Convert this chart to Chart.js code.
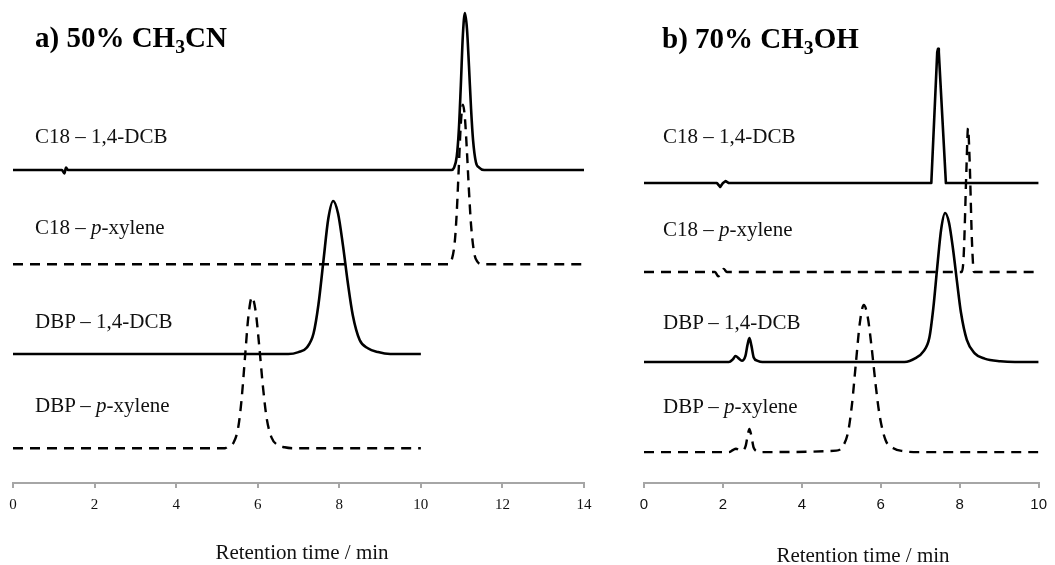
<!DOCTYPE html>
<html lang="en">
<head>
<meta charset="UTF-8">
<title>Chromatograms - retention time</title>
<style>
    body { margin: 0; background: #fff; }
    .wrap {
        position: relative;
        width: 1055px;
        height: 565px;
        overflow: hidden;
        font-family: 'Liberation Serif', 'Times New Roman', serif;
        color: #000;
    }
    canvas { position: absolute; top: 0; }
    .title {
        position: absolute;
        font-weight: bold;
        font-size: 29px;
        line-height: 29px;
        white-space: nowrap;
    }
    .title sub { font-size: 0.68em; line-height: 0; vertical-align: -0.28em; }
    .lbl {
        position: absolute;
        font-size: 21px;
        line-height: 21px;
        white-space: nowrap;
        color: #111;
    }
    .axt {
        position: absolute;
        font-size: 21px;
        line-height: 21px;
        white-space: nowrap;
        transform: translateX(-50%);
        color: #111;
    }
</style>
</head>
<body>
<div class="wrap">
    <canvas id="chartA" width="600" height="565" style="left:0"></canvas>
    <canvas id="chartB" width="455" height="565" style="left:600px"></canvas>

    <div class="title" style="left:35px; top:23px">a) 50% CH<sub>3</sub>CN</div>
    <div class="title" style="left:662px; top:24px">b) 70% CH<sub>3</sub>OH</div>

    <div class="lbl" style="left:35px; top:126px">C18 – 1,4-DCB</div>
    <div class="lbl" style="left:35px; top:217px">C18 – <i>p</i>-xylene</div>
    <div class="lbl" style="left:35px; top:311px">DBP – 1,4-DCB</div>
    <div class="lbl" style="left:35px; top:395px">DBP – <i>p</i>-xylene</div>

    <div class="lbl" style="left:663px; top:126px">C18 – 1,4-DCB</div>
    <div class="lbl" style="left:663px; top:219px">C18 – <i>p</i>-xylene</div>
    <div class="lbl" style="left:663px; top:312px">DBP – 1,4-DCB</div>
    <div class="lbl" style="left:663px; top:396px">DBP – <i>p</i>-xylene</div>

    <div class="axt" style="left:302px; top:542px">Retention time / min</div>
    <div class="axt" style="left:863px; top:545px">Retention time / min</div>
</div>

<script src="https://cdn.jsdelivr.net/npm/chart.js"></script>
<script>
// a) 50% CH3CN  (signal in arbitrary units, traces stacked with offsets)
const aC18DcbTime   = [0, 1.2, 1.26, 1.3, 1.35, 10.75, 10.81, 10.88, 10.93, 10.98, 11.03, 11.08, 11.13, 11.18, 11.23, 11.28, 11.35, 11.43, 11.55, 14];
const aC18DcbSignal = [64.8, 64.8, 64.1, 65.3, 64.8, 64.8, 65.2, 67.6, 72.9, 82.3, 92.7, 97.3, 94.1, 86.3, 77.6, 71.0, 66.4, 65.3, 64.8, 64.8];

const aC18XylTime   = [0, 10.7, 10.75, 10.83, 10.88, 10.93, 10.98, 11.03, 11.08, 11.13, 11.18, 11.23, 11.31, 11.39, 11.5, 14];
const aC18XylSignal = [45.3, 45.3, 46.0, 49.8, 56.0, 65.3, 74.4, 78.3, 75.6, 68.6, 60.4, 53.5, 47.5, 45.8, 45.3, 45.3];

const aDbpDcbTime   = [0, 6.75, 7.0, 7.2, 7.37, 7.49, 7.61, 7.73, 7.85, 7.97, 8.09, 8.21, 8.33, 8.5, 8.7, 8.95, 9.25, 10];
const aDbpDcbSignal = [26.7, 26.7, 27.1, 28.0, 31.0, 37.0, 45.9, 54.7, 58.4, 55.8, 49.2, 41.4, 34.8, 29.6, 27.9, 27.1, 26.7, 26.7];

const aDbpXylTime   = [0, 5.2, 5.26, 5.41, 5.52, 5.6, 5.69, 5.77, 5.86, 5.95, 6.04, 6.13, 6.22, 6.34, 6.48, 6.66, 6.9, 10];
const aDbpXylSignal = [7.2, 7.2, 7.5, 8.4, 11.4, 16.9, 26.2, 34.4, 38.5, 35.5, 28.1, 19.8, 13.4, 9.4, 7.9, 7.4, 7.2, 7.2];

// b) 70% CH3OH
const bC18DcbTime   = [0, 1.85, 1.93, 2.0, 2.07, 2.15, 7.28, 7.43, 7.45, 7.47, 7.65, 10];
const bC18DcbSignal = [62.1, 62.1, 61.3, 62.1, 62.5, 62.1, 62.1, 89.2, 89.9, 89.2, 62.1, 62.1];

const bC18XylTime   = [0, 1.8, 1.88, 1.95, 2.02, 2.1, 8.05, 8.1, 8.17, 8.21, 8.25, 8.31, 8.36, 10];
const bC18XylSignal = [43.7, 43.7, 42.8, 43.4, 44.3, 43.7, 43.7, 47.0, 65.0, 73.5, 67.0, 50.0, 43.7, 43.7];

const bDbpDcbTime   = [0, 2.15, 2.25, 2.32, 2.4, 2.48, 2.57, 2.62, 2.67, 2.72, 2.78, 2.88, 3.0, 6.6, 6.88, 7.08, 7.23, 7.33, 7.43, 7.53, 7.63, 7.73, 7.83, 7.93, 8.03, 8.18, 8.38, 8.63, 9.03, 9.4, 10];
const bDbpDcbSignal = [25.05, 25.05, 25.6, 26.3, 25.8, 25.3, 26.3, 28.5, 30.0, 28.5, 26.0, 25.3, 25.05, 25.05, 25.85, 27.25, 30.05, 36.15, 44.65, 52.55, 55.9, 53.85, 48.45, 41.75, 35.35, 29.65, 26.85, 25.75, 25.2, 25.05, 25.05];

const bDbpXylTime   = [0, 2.15, 2.25, 2.33, 2.42, 2.5, 2.58, 2.63, 2.67, 2.72, 2.78, 2.9, 3.0, 4.87, 5.02, 5.17, 5.27, 5.37, 5.47, 5.57, 5.67, 5.77, 5.87, 5.97, 6.12, 6.32, 6.57, 7.0, 10];
const bDbpXylSignal = [6.4, 6.4, 6.8, 7.1, 6.8, 6.7, 7.8, 10.0, 11.2, 9.8, 7.3, 6.5, 6.4, 6.7, 7.4, 10.5, 16.3, 24.9, 33.2, 36.85, 34.3, 27.9, 20.3, 14.0, 8.9, 7.2, 6.6, 6.4, 6.4];

const xTicksA = [0, 2, 4, 6, 8, 10, 12, 14];
const xTicksB = [0, 2, 4, 6, 8, 10];

function trace(times, values, dashed, sharp) {
    return {
        data: times.map((t, i) => ({ x: t, y: values[i] })),
        borderColor: '#000',
        borderWidth: dashed ? 2.4 : 2.6,
        borderDash: dashed ? [10, 7] : [],
        borderJoinStyle: 'round',
        pointRadius: 0,
        fill: false,
        tension: 0,
        cubicInterpolationMode: sharp ? 'default' : 'monotone'
    };
}

function makeChart(id, ticks, datasets, tickFamily, padLeft, padRight) {
    const ctx = document.getElementById(id).getContext('2d');
    return new Chart(ctx, {
        type: 'line',
        data: { datasets: datasets },
        options: {
            responsive: false,
            animation: false,
            devicePixelRatio: 1,
            layout: { padding: { left: padLeft, right: padRight, top: 0, bottom: 0 } },
            plugins: { legend: { display: false }, tooltip: { enabled: false } },
            scales: {
                x: {
                    type: 'linear',
                    min: ticks[0],
                    max: ticks[ticks.length - 1],
                    afterFit: s => { s.height = 82; },
                    afterBuildTicks: s => { s.ticks = ticks.map(v => ({ value: v })); },
                    ticks: {
                        font: { family: tickFamily, size: 15 },
                        color: '#111',
                        padding: 8,
                        maxRotation: 0
                    },
                    grid: { drawOnChartArea: false, drawTicks: true, tickLength: 5, color: '#a6a6a6', lineWidth: 2 },
                    border: { color: '#a6a6a6', width: 2 }
                },
                y: { display: false, min: 0, max: 100 }
            }
        }
    });
}

makeChart('chartA', xTicksA, [
    trace(aC18DcbTime, aC18DcbSignal, false),
    trace(aC18XylTime, aC18XylSignal, true),
    trace(aDbpDcbTime, aDbpDcbSignal, false),
    trace(aDbpXylTime, aDbpXylSignal, true)
], "'Liberation Serif', serif", 13, 16);

makeChart('chartB', xTicksB, [
    trace(bC18DcbTime, bC18DcbSignal, false, true),
    trace(bC18XylTime, bC18XylSignal, true),
    trace(bDbpDcbTime, bDbpDcbSignal, false),
    trace(bDbpXylTime, bDbpXylSignal, true)
], "'Liberation Sans', sans-serif", 44, 11);
</script>
</body>
</html>
